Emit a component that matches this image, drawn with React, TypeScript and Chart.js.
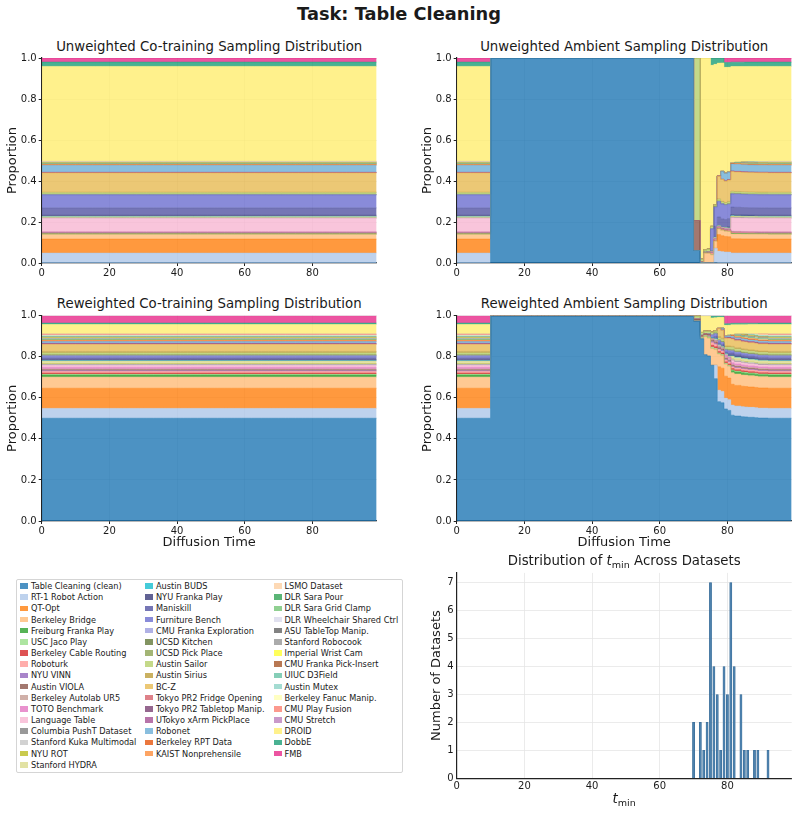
import React, { useEffect, useRef } from "react";
import { Chart, registerables } from "chart.js";

Chart.register(...registerables);

const FONT = "'DejaVu Sans', 'Liberation Sans', sans-serif";
Chart.defaults.font.family = FONT;

// ---------------- data ----------------
const datasetNames = [
  "Table Cleaning (clean)", "RT-1 Robot Action", "QT-Opt", "Berkeley Bridge", "Freiburg Franka Play",
  "USC Jaco Play", "Berkeley Cable Routing", "Roboturk", "NYU VINN", "Austin VIOLA",
  "Berkeley Autolab UR5", "TOTO Benchmark", "Language Table", "Columbia PushT Dataset",
  "Stanford Kuka Multimodal", "NYU ROT", "Stanford HYDRA",
  "Austin BUDS", "NYU Franka Play", "Maniskill", "Furniture Bench", "CMU Franka Exploration",
  "UCSD Kitchen", "UCSD Pick Place", "Austin Sailor", "Austin Sirius", "BC-Z",
  "Tokyo PR2 Fridge Opening", "Tokyo PR2 Tabletop Manip.", "UTokyo xArm PickPlace", "Robonet",
  "Berkeley RPT Data", "KAIST Nonprehensile",
  "LSMO Dataset", "DLR Sara Pour", "DLR Sara Grid Clamp", "DLR Wheelchair Shared Ctrl",
  "ASU TableTop Manip.", "Stanford Robocook", "Imperial Wrist Cam", "CMU Franka Pick-Insert",
  "UIUC D3Field", "Austin Mutex", "Berkeley Fanuc Manip.", "CMU Play Fusion", "CMU Stretch",
  "DROID", "DobbE", "FMB",
];

const datasetColors = [
  "#1f77b4", "#aec7e8", "#ff7f0e", "#ffbb78", "#2ca02c",
  "#98df8a", "#d62728", "#ff9896", "#9467bd", "#8c564b",
  "#c49c94", "#e377c2", "#f7b6d2", "#7f7f7f",
  "#c7c7c7", "#bcbd22", "#dbdb8d",
  "#17becf", "#393b79", "#5254a3", "#6b6ecf", "#9c9ede",
  "#637939", "#8ca252", "#b5cf6b", "#bd9e39", "#e7ba52",
  "#d6616b", "#7b4173", "#a55194", "#6baed6",
  "#e6550d", "#fd8d3c",
  "#fdd0a2", "#31a354", "#74c476", "#dadaeb",
  "#636363", "#969696", "#ffff33", "#a65628",
  "#66c2a5", "#8dd3c7", "#ffffb3", "#fb8072", "#bc80bd",
  "#ffed6f", "#1b9e77", "#e7298a",
];

// share of each dataset in the unweighted co-training mixture (same order as names)
const unweightedShares = [
  0.0005, 0.048, 0.068, 0.023, 0.002,
  0.001, 0.001, 0.003, 0.001, 0.0012,
  0.002, 0.002, 0.065, 0.001,
  0.002, 0.001, 0.004,
  0.001, 0.006, 0.036, 0.063, 0.001,
  0.001, 0.002, 0.0065, 0.003, 0.094,
  0.001, 0.001, 0.001, 0.034,
  0.002, 0.002,
  0.001, 0.001, 0.001, 0.001,
  0.001, 0.002, 0.001, 0.001,
  0.001, 0.002, 0.001, 0.001, 0.001,
  0.463, 0.021, 0.02,
];

// share of each dataset in the reweighted co-training mixture
const reweightedShares = [
  0.5, 0.048, 0.098, 0.054, 0.010,
  0.004, 0.006, 0.008, 0.003, 0.005,
  0.004, 0.008, 0.010, 0.002,
  0.004, 0.002, 0.012,
  0.002, 0.006, 0.008, 0.008, 0.002,
  0.002, 0.004, 0.008, 0.007, 0.034,
  0.002, 0.002, 0.002, 0.008,
  0.003, 0.003,
  0.002, 0.002, 0.002, 0.002,
  0.002, 0.002, 0.002, 0.002,
  0.002, 0.004, 0.003, 0.004, 0.002,
  0.046, 0.007, 0.036,
];

// t_min of each dataset (clean data is used at every diffusion time)
const tMinValues = [
  0, 76, 77, 73, 81,
  72, 75, 75, 74, 70,
  75, 79, 81, 75,
  76, 81, 81,
  74, 80, 76, 75, 75,
  76, 80, 70, 77, 77,
  79, 80, 81, 78,
  81, 81,
  79, 82, 82, 82,
  82, 84, 84, 84,
  85, 86, 88, 89, 92,
  72, 75, 79,
];

// below this diffusion time every dataset is used
const lowNoiseLimit = 10;

const diffusionTimes = Array.from({ length: 100 }, (_, i) => i);

// histogram of t_min
const histTMin = [70, 72, 73, 74, 75, 76, 77, 78, 79, 80, 81, 82, 84, 85, 86, 88, 89, 92];
const histCounts = [2, 2, 1, 2, 7, 4, 3, 1, 4, 3, 7, 4, 3, 1, 1, 1, 1, 1];

// ---------------- helpers ----------------
function rgba(hex: string, a: number) {
  const n = parseInt(hex.slice(1), 16);
  return `rgba(${(n >> 16) & 255},${(n >> 8) & 255},${n & 255},${a})`;
}

function coTrainingSeries(shares: number[]) {
  const total = shares.reduce((a, b) => a + b, 0);
  return shares.map((s) => diffusionTimes.map(() => s / total));
}

function ambientSeries(shares: number[]) {
  const activeAt = (j: number, t: number) => j === 0 || t < lowNoiseLimit || t >= tMinValues[j];
  return shares.map((s, i) =>
    diffusionTimes.map((t) => {
      let total = 0;
      shares.forEach((w, j) => {
        if (activeAt(j, t)) total += w;
      });
      return activeAt(i, t) ? s / total : 0;
    })
  );
}

const GRID_OVER = "rgba(176,176,176,0.32)";
const TEXT = "#1a1a1a";

type StackProps = {
  series: number[][];
  left: number;
  top: number;
  width: number;
  height: number;
  padTop: number;
  padRight: number;
  yW: number;
  xH: number;
  yTitlePad: number;
  xTitle: boolean;
};

function StackChart(p: StackProps) {
  const ref = useRef<HTMLCanvasElement | null>(null);
  useEffect(() => {
    if (!ref.current) return;
    const chart = new Chart(ref.current, {
      type: "line",
      data: {
        datasets: p.series.map((vals, i) => ({
          label: datasetNames[i],
          data: vals.map((v, k) => ({ x: diffusionTimes[k], y: v })),
          backgroundColor: rgba(datasetColors[i], 0.8),
          borderColor: rgba(datasetColors[i], 0.9),
          borderWidth: 0.5,
          fill: i === 0 ? "origin" : "-1",
          stepped: "before",
          pointRadius: 0,
          tension: 0,
        })),
      },
      options: {
        responsive: false,
        animation: false,
        devicePixelRatio: 1,
        layout: { padding: { top: p.padTop, right: p.padRight, left: 0, bottom: 0 } },
        plugins: { legend: { display: false }, tooltip: { enabled: false } },
        scales: {
          x: {
            type: "linear",
            min: 0,
            max: 99,
            z: 1,
            afterFit: (s: any) => {
              s.height = p.xH;
            },
            ticks: { stepSize: 20, includeBounds: false, font: { size: 10 }, color: TEXT, padding: 1, maxRotation: 0 },
            grid: { color: GRID_OVER, lineWidth: 0.8, tickLength: 3, tickColor: "#222", tickWidth: 1 },
            border: { color: "#222", width: 1.2 },
            title: p.xTitle
              ? { display: true, text: "Diffusion Time", font: { size: 13 }, color: TEXT, padding: { top: 0, bottom: 2.9 } }
              : { display: false },
          },
          y: {
            type: "linear",
            stacked: true,
            min: 0,
            max: 1,
            z: 1,
            afterFit: (s: any) => {
              s.width = p.yW;
            },
            ticks: {
              stepSize: 0.2,
              includeBounds: false,
              font: { size: 10 },
              color: TEXT,
              padding: 2,
              callback: (v: any) => Number(v).toFixed(1),
            },
            grid: { color: GRID_OVER, lineWidth: 0.8, tickLength: 3, tickColor: "#222", tickWidth: 1 },
            border: { color: "#222", width: 1.2 },
            title: { display: true, text: "Proportion", font: { size: 13 }, color: TEXT, padding: { top: p.yTitlePad, bottom: 0 } },
          },
        },
      } as any,
    });
    return () => chart.destroy();
  }, []);
  return (
    <canvas
      ref={ref}
      width={p.width}
      height={p.height}
      style={{ position: "absolute", left: p.left, top: p.top, width: p.width, height: p.height }}
    />
  );
}

function HistChart() {
  const ref = useRef<HTMLCanvasElement | null>(null);
  useEffect(() => {
    if (!ref.current) return;
    const chart = new Chart(ref.current, {
      type: "bar",
      data: {
        datasets: [
          {
            label: "t_min",
            data: histTMin.map((x, i) => ({ x, y: histCounts[i] })),
            backgroundColor: "rgba(70,125,170,0.92)",
            borderColor: "#3d6e98",
            borderWidth: 0.5,
            barThickness: 2.2,
          },
        ],
      },
      options: {
        responsive: false,
        animation: false,
        devicePixelRatio: 1,
        layout: { padding: { top: 12.9, right: 6.3, left: 0, bottom: 0 } },
        plugins: { legend: { display: false }, tooltip: { enabled: false } },
        scales: {
          x: {
            type: "linear",
            min: 0,
            max: 99,
            offset: false,
            afterFit: (s: any) => {
              s.height = 34.7;
            },
            ticks: { stepSize: 20, includeBounds: false, font: { size: 10 }, color: TEXT, padding: 2, maxRotation: 0 },
            grid: { color: "#e6e6e6", lineWidth: 0.8, drawTicks: false, offset: false },
            border: { color: "#222", width: 1.2 },
          },
          y: {
            type: "linear",
            min: 0,
            max: 7.35,
            afterFit: (s: any) => {
              s.width = 56.7;
            },
            ticks: { stepSize: 1, includeBounds: false, font: { size: 10 }, color: TEXT, padding: 3 },
            grid: { color: "#e6e6e6", lineWidth: 0.8, drawTicks: false },
            border: { color: "#222", width: 1.2 },
            title: { display: true, text: "Number of Datasets", font: { size: 13 }, color: TEXT, padding: { top: 28.9, bottom: 0 } },
          },
        },
      } as any,
    });
    return () => chart.destroy();
  }, []);
  return (
    <canvas ref={ref} width={398} height={253} style={{ position: "absolute", left: 400, top: 560, width: 398, height: 253 }} />
  );
}

function Label(props: { cx: number; cy: number; size: number; bold?: boolean; children: React.ReactNode }) {
  return (
    <div
      style={{
        position: "absolute",
        left: props.cx,
        top: props.cy,
        transform: "translate(-50%, -50%)",
        whiteSpace: "nowrap",
        fontSize: props.size,
        fontWeight: props.bold ? "bold" : "normal",
        lineHeight: 1,
        color: TEXT,
      }}
    >
      {props.children}
    </div>
  );
}

function Legend() {
  const cols = [
    { start: 0, end: 17, sw: 19.5, tx: 31 },
    { start: 17, end: 33, sw: 144.5, tx: 156 },
    { start: 33, end: 49, sw: 273.5, tx: 284.5 },
  ];
  const items: React.ReactNode[] = [];
  cols.forEach((c) => {
    for (let i = c.start; i < c.end; i++) {
      const row = i - c.start;
      const cy = 586 + row * 11.17;
      items.push(
        <div
          key={"s" + i}
          style={{
            position: "absolute",
            left: c.sw,
            top: cy - 2.8,
            width: 8,
            height: 5.6,
            background: rgba(datasetColors[i], 0.8),
          }}
        />
      );
      items.push(
        <div
          key={"t" + i}
          style={{
            position: "absolute",
            left: c.tx,
            top: cy,
            transform: "translateY(-50%)",
            fontSize: 8.2,
            lineHeight: 1,
            whiteSpace: "nowrap",
            color: TEXT,
          }}
        >
          {datasetNames[i]}
        </div>
      );
    }
  });
  return (
    <>
      <div
        style={{
          position: "absolute",
          left: 16,
          top: 579,
          width: 385,
          height: 192,
          border: "1px solid #d5d5d5",
          borderRadius: 2,
          background: "#fff",
        }}
      />
      {items}
    </>
  );
}

const subMin = (
  <sub style={{ fontSize: "0.72em", verticalAlign: "-0.28em", lineHeight: 0, fontStyle: "normal" }}>min</sub>
);

export default function App() {
  const uCo = coTrainingSeries(unweightedShares);
  const uAmb = ambientSeries(unweightedShares);
  const rCo = coTrainingSeries(reweightedShares);
  const rAmb = ambientSeries(reweightedShares);
  return (
    <div
      style={{
        position: "absolute",
        left: 0,
        top: 0,
        width: 798,
        height: 813,
        background: "#fff",
        overflow: "hidden",
        fontFamily: FONT,
      }}
    >
      <Label cx={399} cy={13.5} size={17.8} bold>
        Task: Table Cleaning
      </Label>

      <Label cx={209.2} cy={46.7} size={13.3}>Unweighted Co-training Sampling Distribution</Label>
      <Label cx={624.2} cy={46.7} size={13.3}>Unweighted Ambient Sampling Distribution</Label>
      <Label cx={209.2} cy={304} size={13.3}>Reweighted Co-training Sampling Distribution</Label>
      <Label cx={624.2} cy={304} size={13.3}>Reweighted Ambient Sampling Distribution</Label>

      <StackChart series={uCo} left={0} top={30} width={400} height={250} padTop={28} padRight={23.3} yW={41.7} xH={17} yTitlePad={4.5} xTitle={false} />
      <StackChart series={uAmb} left={400} top={30} width={398} height={250} padTop={28} padRight={6.3} yW={56.7} xH={17} yTitlePad={19.9} xTitle={false} />
      <StackChart series={rCo} left={0} top={290} width={400} height={263} padTop={25.7} padRight={23.3} yW={41.7} xH={32} yTitlePad={4.5} xTitle={true} />
      <StackChart series={rAmb} left={400} top={290} width={398} height={263} padTop={25.7} padRight={6.3} yW={56.7} xH={32} yTitlePad={19.9} xTitle={true} />

      <Legend />

      <HistChart />
      <Label cx={624.2} cy={561} size={13.3}>
        Distribution of <i>t</i>
        {subMin} Across Datasets
      </Label>
      <Label cx={624.2} cy={799} size={13.3}>
        <i>t</i>
        {subMin}
      </Label>
    </div>
  );
}
